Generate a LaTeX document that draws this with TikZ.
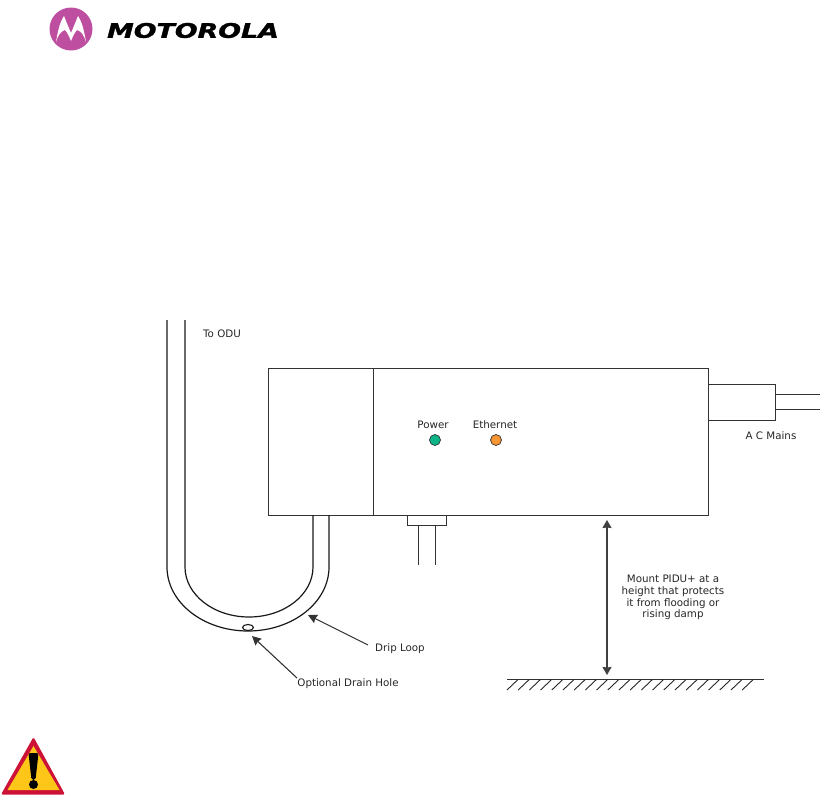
\documentclass[tikz,border=0pt]{standalone}
\usepackage{fontspec}
\setmainfont{DejaVu Sans}
\newfontfamily\logofont[BoldItalicFeatures={FakeBold=1.4}]{DejaVu Sans}
\usetikzlibrary{arrows.meta,shapes.geometric}
\definecolor{logopink}{HTML}{BE4FA0}
\definecolor{ledgreen}{HTML}{0DB488}
\definecolor{ledorange}{HTML}{F79433}
\definecolor{warnred}{HTML}{CC1236}
\definecolor{warnyellow}{HTML}{FFC61A}
\tikzset{
  lbl/.style={font=\fontsize{10.3}{11.7}\selectfont, inner sep=0pt, align=center, text=black!85},
  wire/.style={draw=black!90, line width=1.2pt},
  boxn/.style={draw=black!80, line width=1pt, fill=white, inner sep=0pt, outer sep=0pt},
  led/.style={circle, draw=black!80, line width=0.7pt, minimum size=11pt, inner sep=0pt},
  ptr/.style={draw=black!80, line width=1.1pt, -{Stealth[length=9pt,width=9pt,inset=1pt]}},
  dimarrow/.style={draw=black!75, line width=1.2pt, {Stealth[length=8pt,width=9pt,inset=0.5pt]}-{Stealth[length=8pt,width=9pt,inset=0.5pt]}},
}
\begin{document}
\begin{tikzpicture}[x=1pt,y=-1pt]
\useasboundingbox (0,0) rectangle (820,795);
% logo
\fill[logopink] (71,29) circle (21.5);
\fill[white] (56,42) .. controls (58,30) and (60,22) .. (64,16) .. controls (66,21) and (68,26) .. (71,33) .. controls (74,26) and (76,21) .. (78,16) .. controls (82,22) and (84,30) .. (86,42) .. controls (84,35) and (81,31) .. (77,30) .. controls (75,32) and (73,36) .. (71,41) .. controls (69,36) and (67,32) .. (65,30) .. controls (61,31) and (58,35) .. (56,42) -- cycle;
\node[inner sep=0pt, font=\logofont\bfseries\itshape\fontsize{20}{20}\selectfont, xscale=1.34, yscale=1.0] (logotext) at (193,30.5) {MOTOROLA};
% warning sign
\fill[warnred, rounded corners=1.5pt] (33.5,737) -- (65,794.5) -- (1,794.5) -- cycle;
\fill[warnyellow] (33.5,746) -- (59.5,790) -- (7.5,790) -- cycle;
\fill[black, rounded corners=2pt] (28.5,753) -- (38.5,753) -- (35.5,780) -- (31.5,780) -- cycle;
\fill[black] (33.5,784.5) circle (4.5);
% enclosure
\node[boxn, minimum width=105pt, minimum height=147pt] (injector) at (320.5,441.5) {};
\node[boxn, minimum width=335pt, minimum height=147pt] (body) at (373+167.5,441.5) {};
\node[boxn, minimum width=67pt, minimum height=36pt] (plug) at (741.5,402) {};
\coordinate (cableA) at (820,394);
\coordinate (cableB) at (820,409);
\draw[boxn] (plug.east |- cableA) -- (cableA);
\draw[boxn] (plug.east |- cableB) -- (cableB);
\node[lbl] (acmains) at (771,436) {A C Mains};
% LEDs
\node[led, fill=ledgreen] (powerled) at (435,440) {};
\node[led, fill=ledorange] (ethled) at (496,440) {};
\node[lbl] (powerlbl) at (433,425) {Power};
\node[lbl] (ethlbl) at (495,425) {Ethernet};
% ethernet connector
\node[boxn, minimum width=39pt, minimum height=10pt] (socket) at (426.5,520) {};
\coordinate (ethA) at (418,565);
\coordinate (ethB) at (435,565);
\draw[boxn] (socket.south -| ethA) -- (ethA);
\draw[boxn] (socket.south -| ethB) -- (ethB);
% drip loop
\coordinate (outerTop) at (167,320);
\coordinate (innerTop) at (185,320);
\draw[wire] (outerTop) -- (167,567) arc[start angle=180, end angle=360, x radius=81, y radius=-64] -- (329,515);
\draw[wire] (innerTop) -- (185,567) arc[start angle=180, end angle=360, x radius=64, y radius=-50] -- (313,515);
\node[lbl] (toodu) at (222,333.5) {To ODU};
\node[draw=black!90, line width=1.1pt, ellipse, minimum width=11pt, minimum height=6pt, inner sep=0pt] (hole) at (248,627.5) {};
\node[lbl] (driplbl) at (400,648.5) {Drip Loop};
\node[lbl] (holelbl) at (348,684) {Optional Drain Hole};
\coordinate (dripTail) at (368,645);
\coordinate (dripTip) at (308,615);
\coordinate (holeTail) at (297,678);
\coordinate (holeTip) at (252,636);
\draw[ptr] (dripTail) -- (dripTip);
\draw[ptr] (holeTail) -- (holeTip);
% ground and height
\coordinate (gndL) at (507,679);
\coordinate (gndR) at (764,679);
\draw[boxn] (gndL) -- (gndR);
\foreach \i in {0,...,21} {
  \draw[black!85, line width=0.9pt] (518+\i*11.2,679.5) -- (507+\i*11.2,690);
}
\coordinate (dimTop) at (607,520);
\coordinate (dimBot) at (607,675);
\draw[dimarrow] (dimTop) -- (dimBot);
\node[lbl] (heightlbl) at (673,597.5) {Mount PIDU+ at a\\height that protects\\it from flooding or\\rising damp};
\end{tikzpicture}
\end{document}
